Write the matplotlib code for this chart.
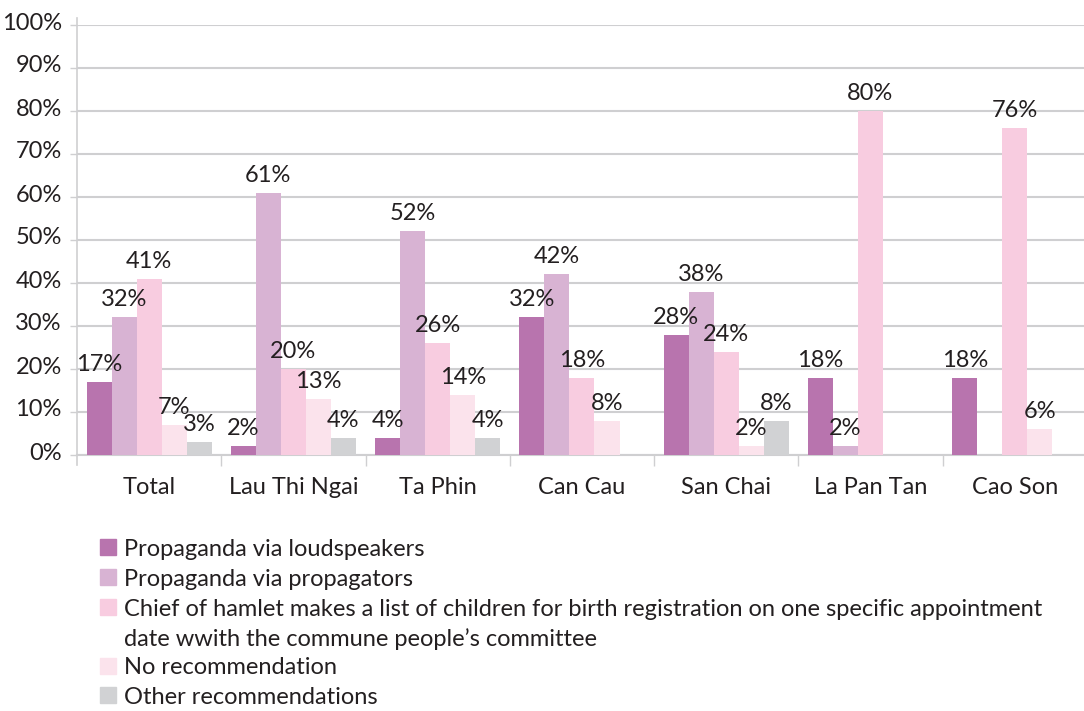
import matplotlib.pyplot as plt
import matplotlib.transforms as mtransforms
from matplotlib.patches import Rectangle
import numpy as np

plt.rcParams['font.family'] = ['Lato', 'DejaVu Sans']

# data (percent)
communes = ["Total", "Lau Thi Ngai", "Ta Phin", "Can Cau", "San Chai", "La Pan Tan", "Cao Son"]
series_names = [
    "Propaganda via loudspeakers",
    "Propaganda via propagators",
    "Chief of hamlet makes a list of children for birth registration on one specific appointment\ndate wwith the commune people\u2019s committee",
    "No recommendation",
    "Other recommendations",
]
loudspeakers = [17, 2, 4, 32, 28, 18, 18]
propagators = [32, 61, 52, 42, 38, 2, 0]
chief_list = [41, 20, 26, 18, 24, 80, 76]
no_recommendation = [7, 13, 14, 8, 2, 0, 6]
other = [3, 4, 4, 0, 8, 0, 0]

series_values = [loudspeakers, propagators, chief_list, no_recommendation, other]
colors = ["#B874AE", "#D8B3D3", "#F8CCE0", "#FBE3EC", "#D1D2D4"]
yticks = [0, 10, 20, 30, 40, 50, 60, 70, 80, 90, 100]

W, H = 1084, 711
FS = 17
fig = plt.figure(figsize=(W / 100, H / 100), dpi=100)
ax = fig.add_axes([77 / W, 1 - 455 / H, 1 - 77 / W, (455 - 25) / H])

x = np.arange(len(communes))
bw = 25 / 144
text_col = "#231F20"
grid_col = "#CFCFD1"

for i, (vals, col) in enumerate(zip(series_values, colors)):
    pos = x + (i - 2) * bw
    bars = ax.bar(pos, vals, width=bw, color=col, zorder=3)
    for b, v in zip(bars, vals):
        if v == 0:
            continue
        ax.annotate(f"{v}%", (b.get_x() + b.get_width() / 2, v),
                    xytext=(0, 5), textcoords="offset points",
                    ha="center", va="bottom", fontsize=FS, color=text_col, zorder=4)

ax.set_ylim(0, 100)
ax.set_xlim(-0.5, 6.48)
ax.set_yticks(yticks)
ax.set_yticklabels([f"{t}%" for t in yticks])
ax.yaxis.grid(True, color=grid_col, linewidth=1.5, zorder=0)
ax.set_axisbelow(True)

ax.set_xticks(x)
ax.set_xticklabels(communes)
ax.set_xticks(np.arange(0.5, len(communes) - 0.5, 1), minor=True)
ax.tick_params(axis="x", which="major", length=0, pad=16, labelsize=FS, labelcolor=text_col)
ax.tick_params(axis="x", which="minor", length=8, width=1, color=grid_col)
ax.tick_params(axis="y", length=5, width=1, color=grid_col, pad=6, labelsize=FS, labelcolor=text_col)

for lab in ax.get_yticklabels():
    lab.set_transform(lab.get_transform() + mtransforms.ScaledTranslation(0, 4 / 100, fig.dpi_scale_trans))

for s in ["top", "right"]:
    ax.spines[s].set_visible(False)
ax.spines["left"].set_color(grid_col)
ax.spines["left"].set_linewidth(1.2)
ax.spines["left"].set_bounds(-2.3, 101.6)
ax.spines["bottom"].set_color(grid_col)
ax.spines["bottom"].set_linewidth(1.5)

# legend drawn by hand; the long entry wraps onto a second line
row_y = [547, 577, 607, 666, 695]
line_gap = 30
for name, col, yy in zip(series_names, colors, row_y):
    fig.patches.append(Rectangle((100 / W, 1 - (yy + 8) / H), 16 / W, 16 / H,
                                 transform=fig.transFigure, color=col))
    for k, line in enumerate(name.split("\n")):
        fig.text(124 / W, 1 - (yy + k * line_gap) / H, line, ha="left", va="center_baseline",
                 fontsize=FS, color=text_col)

fig.savefig("out.png", dpi=100)
